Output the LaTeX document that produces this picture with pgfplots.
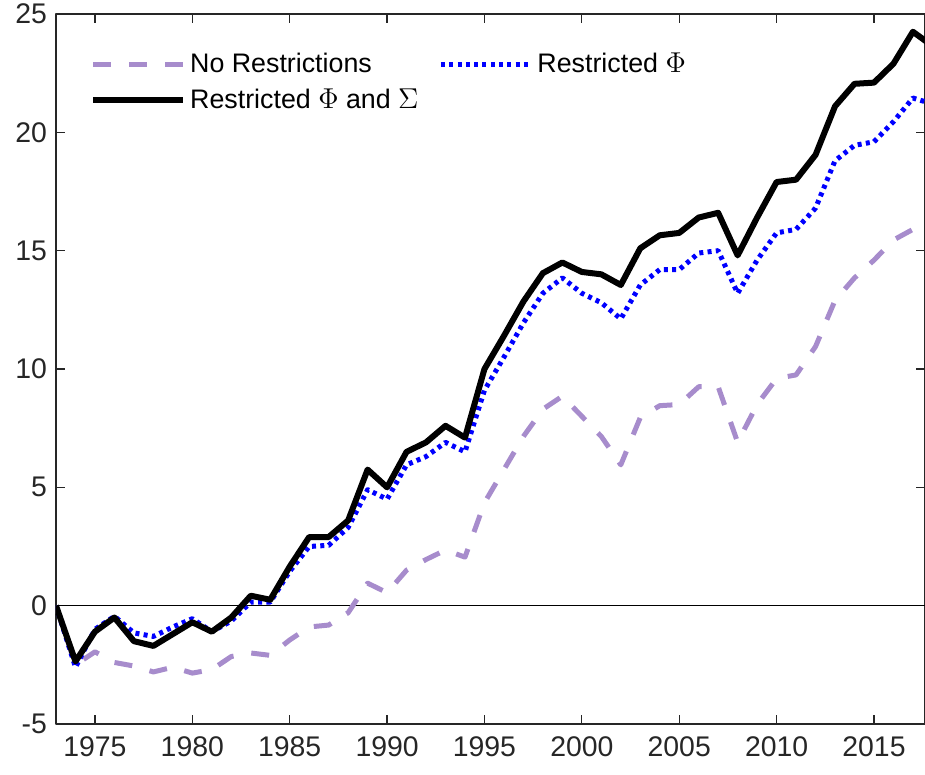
\documentclass[border=0pt]{standalone}
\usepackage{pgfplots}
\pgfplotsset{compat=1.18}
\usepackage{fontspec}
\setmainfont{Liberation Sans}

\definecolor{axgray}{RGB}{38,38,38}
\definecolor{lavender}{RGB}{167,140,204}

% Cumulative paths, 1973-2018
\pgfplotstableread{
year  nores  resphi  resphisig
1973  0.00   0.00    0.00
1974 -2.50  -2.60   -2.36
1975 -1.95  -1.00   -1.10
1976 -2.40  -0.45   -0.50
1977 -2.55  -1.15   -1.50
1978 -2.80  -1.30   -1.70
1979 -2.60  -0.90   -1.20
1980 -2.85  -0.55   -0.70
1981 -2.70  -1.10   -1.10
1982 -2.15  -0.65   -0.50
1983 -2.00   0.15    0.42
1984 -2.10   0.15    0.25
1985 -1.45   1.45    1.65
1986 -0.90   2.50    2.90
1987 -0.82   2.55    2.90
1988 -0.30   3.30    3.60
1989  0.95   4.90    5.75
1990  0.55   4.50    5.00
1991  1.50   5.95    6.50
1992  1.95   6.30    6.90
1993  2.35   6.90    7.60
1994  2.05   6.50    7.10
1995  4.35   9.10   10.00
1996  5.75  10.50   11.40
1997  7.15  11.95   12.85
1998  8.30  13.20   14.05
1999  8.85  13.85   14.50
2000  8.00  13.20   14.10
2001  7.15  12.80   14.00
2002  5.95  12.12   13.55
2003  7.95  13.55   15.10
2004  8.45  14.20   15.65
2005  8.50  14.20   15.75
2006  9.25  14.90   16.40
2007  9.25  15.00   16.60
2008  6.90  13.20   14.80
2009  8.50  14.60   16.40
2010  9.60  15.75   17.90
2011  9.75  15.90   18.00
2012 10.95  16.80   19.05
2013 12.90  18.80   21.10
2014 13.85  19.45   22.05
2015 14.60  19.60   22.10
2016 15.45  20.45   22.90
2017 15.90  21.45   24.25
2018 15.50  21.20   23.65
}\paths

\begin{document}
\begin{tikzpicture}
\begin{axis}[
  scale only axis,
  width=434.5bp, height=355bp,
  xmin=1973, xmax=2017.62,
  ymin=-5, ymax=25,
  xtick={1975,1980,...,2015},
  xticklabels={1975,1980,1985,1990,1995,2000,2005,2010,2015},
  ytick={-5,0,5,10,15,20,25},
  yticklabels={-5,0,5,10,15,20,25},
  tick align=inside,
  major tick length=4.5bp,
  axis line style={axgray, line width=0.6bp},
  every tick/.style={axgray, line width=0.6bp},
  tick label style={font=\fontsize{14.2bp}{16bp}\selectfont, text=axgray},
  yticklabel style={xshift=-1bp},
  xticklabel style={yshift=-3bp},
  clip=true,
  legend columns=2,
  legend cell align=left,
  legend style={
    draw=none, fill=none,
    at={(rel axis cs:0.032,0.955)}, anchor=north west,
    font=\fontsize{13.4bp}{16bp}\selectfont,
    row sep=3.5bp,
    /tikz/every even column/.append style={column sep=8bp},
    nodes={inner ysep=1.5bp, inner xsep=2bp},
  },
  legend image code/.code={\draw[#1] (0bp,0bp) -- (45bp,0bp);},
  line join=round,
]
\coordinate (bl) at (rel axis cs:0,0);
\coordinate (tr) at (rel axis cs:1,1);

% zero reference line
\addplot[black, line width=0.75bp, forget plot] coordinates {(1973,0) (2019,0)};

\addplot[lavender, line width=2.5bp, dash pattern=on 9bp off 9bp]
  table[x=year, y=nores] {\paths};
\addlegendentry{No Restrictions}

\addplot[blue, line width=2.5bp, dash pattern=on 2bp off 2.15bp]
  table[x=year, y=resphi] {\paths};
\addlegendentry{Restricted $\Phi$}

\addplot[black, line width=3bp]
  table[x=year, y=resphisig] {\paths};
\addlegendentry{Restricted $\Phi$ and $\Sigma$}
\end{axis}
\pgfresetboundingbox
\path ([xshift=-28bp,yshift=-25.5bp]bl) rectangle ([yshift=7bp]tr);
\end{tikzpicture}
\end{document}
